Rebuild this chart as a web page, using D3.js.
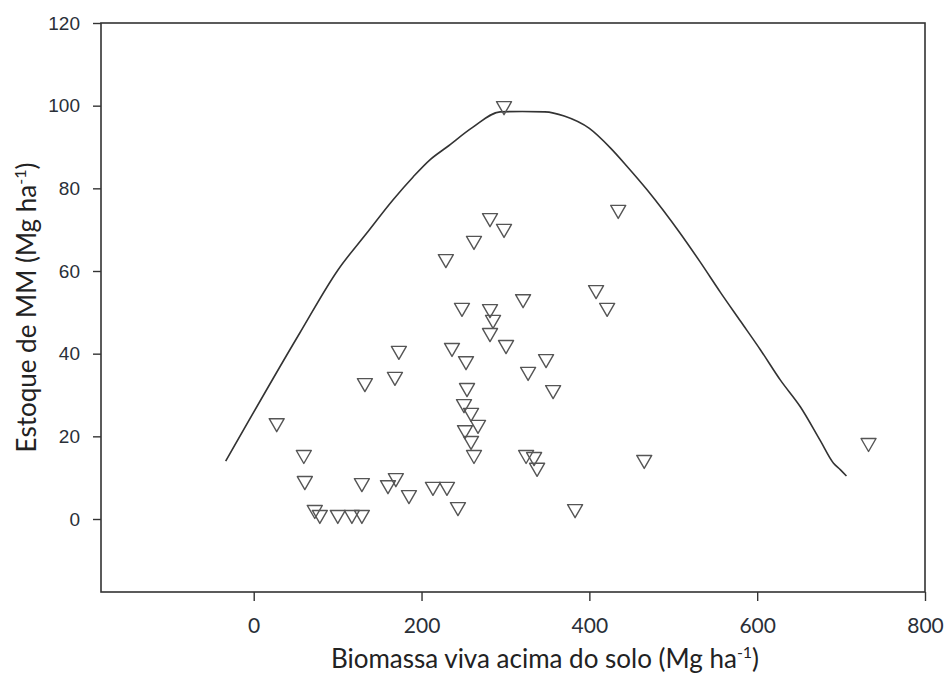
<!DOCTYPE html>
<html>
<head>
<meta charset="utf-8">
<script src="https://cdn.jsdelivr.net/npm/d3@7"></script>
<style>
  html, body { margin: 0; padding: 0; background: #fff; }
  svg { display: block; }
</style>
</head>
<body>
<svg id="chart" width="948" height="677"></svg>
<script>
// ---- data ----
const pointX = [27.4, 59.7, 60.9, 72.8, 78.8, 100.2, 117, 128.9, 128.9, 132.5,
  168.3, 173, 169.4, 160, 185, 213.6, 230.3, 243.4, 229, 236.3,
  248.2, 253, 254.2, 250.6, 259, 267.3, 251.8, 259, 262.5, 262.5,
  281.6, 298.3, 298.3, 281.6, 285.2, 281.6, 300.7, 321, 327, 348.4,
  356.8, 324.6, 334.1, 337.7, 408, 421.2, 434.4, 465.4, 383, 732.7];
const pointY = [22.7, 15.0, 8.7, 1.7, 0.5, 0.5, 0.5, 0.5, 8.2, 32.4,
  33.9, 40.2, 9.4, 7.7, 5.3, 7.3, 7.3, 2.4, 62.4, 40.9,
  50.6, 37.7, 31.2, 27.3, 25.2, 22.3, 21.0, 18.4, 15.0, 66.8,
  72.3, 69.7, 99.4, 50.3, 47.7, 44.5, 41.6, 52.7, 35.1, 38.2,
  30.7, 15.0, 14.5, 11.9, 54.9, 50.6, 74.3, 13.8, 1.9, 17.9];

const curveX = [-33.4, 54.9, 100.2, 134.8, 165.9, 189.7, 210, 230.3, 261.3, 293.6,
  320, 347, 370, 400, 425, 445, 469, 508, 532, 556, 580, 604, 627.7, 651.6, 675.4, 691, 699.3, 706.4];
const curveY = [14.0, 45.0, 60.2, 69.2, 77.2, 82.7, 86.9, 90.0, 94.8, 98.5,
  98.6, 98.5, 97.5, 94.5, 89.8, 85.3, 79.6, 69.2, 62.2, 54.9, 47.9, 40.9, 33.6, 27.1, 18.9, 13.5, 11.9, 10.4];

const xTicks = [0, 200, 400, 600, 800];
const yTicks = [0, 20, 40, 60, 80, 100, 120];

const xTitle = "Biomassa viva acima do solo (Mg ha";
const yTitle = "Estoque de MM (Mg ha";
const unitSup = "-1";

// ---- layout ----
const plot = { left: 101, right: 925, top: 23, bottom: 592 };

const svg = d3.select("#chart");

const x = d3.scaleLinear().domain([-182, 800]).range([plot.left, plot.right]);
const y = d3.scaleLinear().domain([-17.66, 120]).range([plot.bottom, plot.top]);

const axisColor = "#333";

// frame
svg.append("rect")
  .attr("x", plot.left).attr("y", plot.top)
  .attr("width", plot.right - plot.left).attr("height", plot.bottom - plot.top)
  .attr("fill", "none").attr("stroke", axisColor).attr("stroke-width", 1.6);

// y axis
const gy = svg.append("g")
  .attr("transform", `translate(${plot.left},0)`)
  .call(d3.axisLeft(y).tickValues(yTicks).tickSize(8).tickPadding(13).tickFormat(d3.format("d")));
gy.select(".domain").remove();
gy.selectAll(".tick line").attr("stroke", axisColor).attr("stroke-width", 1.4);
gy.selectAll(".tick text")
  .attr("fill", "#2a2f38")
  .style("font-family", "'Liberation Sans', Arial, sans-serif")
  .style("font-size", "19px");

// x axis
const gx = svg.append("g")
  .attr("transform", `translate(0,${plot.bottom})`)
  .call(d3.axisBottom(x).tickValues(xTicks).tickSize(9).tickFormat(d3.format("d")));
gx.select(".domain").remove();
gx.selectAll(".tick line").attr("stroke", axisColor).attr("stroke-width", 1.4);
gx.selectAll(".tick text")
  .attr("y", 34).attr("dy", "0.35em")
  .attr("fill", "#2a2f38")
  .style("font-family", "Lato, 'Open Sans', sans-serif")
  .style("font-size", "21px");

// curve
const curvePts = curveX.map((d, i) => [d, curveY[i]]);
svg.append("path")
  .datum(curvePts)
  .attr("fill", "none")
  .attr("stroke", "#333")
  .attr("stroke-width", 1.6)
  .attr("d", d3.line().x(d => x(d[0])).y(d => y(d[1])).curve(d3.curveMonotoneX));

// points (open downward triangles)
const tri = "M-7.5,-6.5L7.5,-6.5L0,6.5Z";
svg.append("g").selectAll("path")
  .data(pointX.map((d, i) => [d, pointY[i]]))
  .join("path")
  .attr("d", tri)
  .attr("transform", d => `translate(${x(d[0])},${y(d[1])})`)
  .attr("fill", "none")
  .attr("stroke", "#555")
  .attr("stroke-width", 1.4)
  .attr("stroke-linejoin", "round");

// titles
const xt = svg.append("text")
  .attr("x", 545).attr("y", 668)
  .attr("text-anchor", "middle")
  .attr("fill", "#222")
  .style("font-family", "Lato, 'Open Sans', sans-serif")
  .style("font-size", "26px");
xt.append("tspan").text(xTitle);
xt.append("tspan").attr("dy", -10).style("font-size", "16px").text(unitSup);
xt.append("tspan").attr("dy", 10).text(")");

const yt = svg.append("text")
  .attr("transform", `translate(36,${(plot.top + plot.bottom) / 2}) rotate(-90)`)
  .attr("text-anchor", "middle")
  .attr("fill", "#222")
  .style("font-family", "Lato, 'Open Sans', sans-serif")
  .style("font-size", "26px");
yt.append("tspan").text(yTitle);
yt.append("tspan").attr("dy", -10).style("font-size", "16px").text(unitSup);
yt.append("tspan").attr("dy", 10).text(")");
</script>
</body>
</html>
